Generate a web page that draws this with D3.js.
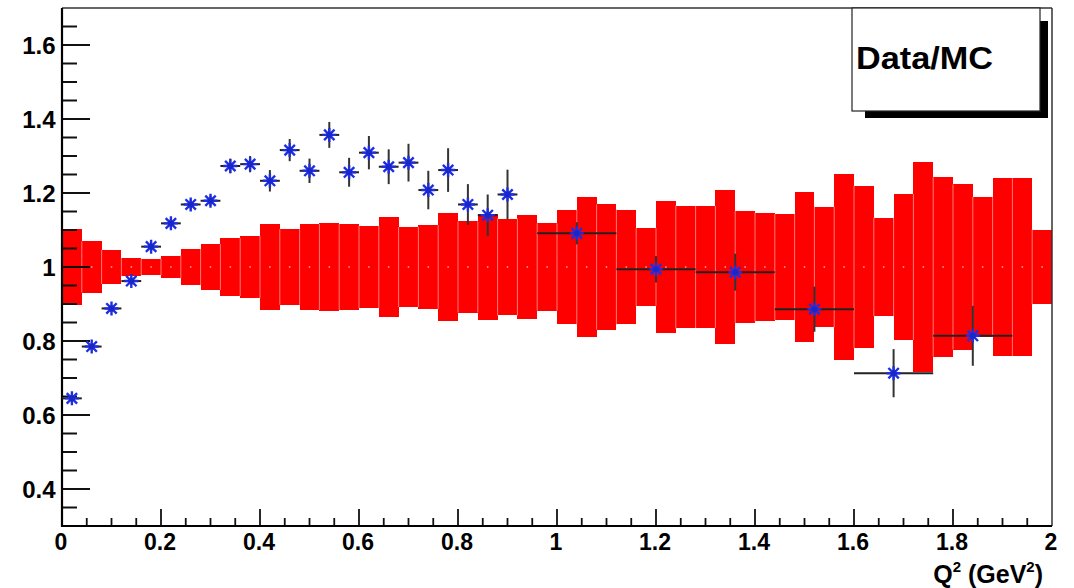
<!DOCTYPE html>
<html>
<head>
<meta charset="utf-8">
<script src="https://cdn.jsdelivr.net/npm/d3@7"></script>
<style>
  html, body { margin: 0; padding: 0; background: #fff; }
  svg { display: block; }
  text { font-family: "Liberation Sans", Arial, Helvetica, sans-serif; font-weight: bold; fill: #000; }
</style>
</head>
<body>
<svg id="chart" width="1074" height="588"></svg>
<script>
// Q^2 binning of the MC systematic band (0 to 2 GeV^2, 0.04 wide bins)
const bandBinWidth = 0.04;
const bandErr = [
  0.104, 0.069, 0.046, 0.024, 0.022, 0.031, 0.049, 0.062, 0.078, 0.084,
  0.116, 0.102, 0.116, 0.120, 0.116, 0.111, 0.134, 0.108, 0.113, 0.145,
  0.123, 0.142, 0.131, 0.141, 0.118, 0.155, 0.188, 0.169, 0.155, 0.105,
  0.178, 0.166, 0.165, 0.208, 0.151, 0.147, 0.143, 0.203, 0.163, 0.251,
  0.219, 0.133, 0.197, 0.284, 0.242, 0.223, 0.189, 0.240, 0.240, 0.101
];

// Data/MC ratio points
const q2 = [
  0.02, 0.06, 0.10, 0.14, 0.18, 0.22, 0.26, 0.30, 0.34, 0.38,
  0.42, 0.46, 0.50, 0.54, 0.58, 0.62, 0.66, 0.70, 0.74, 0.78,
  0.82, 0.86, 0.90, 1.04, 1.20, 1.36, 1.52, 1.68, 1.84
];
const q2Err = [
  0.02, 0.02, 0.02, 0.02, 0.02, 0.02, 0.02, 0.02, 0.02, 0.02,
  0.02, 0.02, 0.02, 0.02, 0.02, 0.02, 0.02, 0.02, 0.02, 0.02,
  0.02, 0.02, 0.02, 0.08, 0.08, 0.08, 0.08, 0.08, 0.08
];
const ratio = [
  0.645, 0.785, 0.888, 0.962, 1.055, 1.118, 1.169, 1.179, 1.273, 1.278,
  1.233, 1.316, 1.260, 1.357, 1.256, 1.309, 1.271, 1.282, 1.208, 1.262,
  1.169, 1.140, 1.196, 1.091, 0.994, 0.986, 0.886, 0.713, 0.814
];
const ratioErr = [
  0.008, 0.008, 0.009, 0.010, 0.011, 0.012, 0.013, 0.014, 0.020, 0.022,
  0.029, 0.030, 0.033, 0.035, 0.039, 0.045, 0.047, 0.051, 0.052, 0.059,
  0.055, 0.056, 0.067, 0.030, 0.036, 0.050, 0.061, 0.065, 0.081
];

// Axis ticks
const xMajorTicks = [0, 0.2, 0.4, 0.6, 0.8, 1, 1.2, 1.4, 1.6, 1.8, 2];
const xTickLabels = ["0", "0.2", "0.4", "0.6", "0.8", "1", "1.2", "1.4", "1.6", "1.8", "2"];
const yMajorTicks = [0.4, 0.6, 0.8, 1, 1.2, 1.4, 1.6];
const yTickLabels = ["0.4", "0.6", "0.8", "1", "1.2", "1.4", "1.6"];
const legendLabel = "Data/MC";

const svg = d3.select("#chart");
const x = d3.scaleLinear().domain([0, 2]).range([62, 1052]);
const y = d3.scaleLinear().domain([0.3, 1.7]).range([526, 8]);

// ---- systematic band ----
const bins = bandErr.map((e, i) => ({ lo: i * bandBinWidth, hi: (i + 1) * bandBinWidth, err: e }));
const band = svg.append("g");
band.selectAll("rect").data(bins).join("rect")
  .attr("x", d => x(d.lo))
  .attr("width", d => x(d.hi) - x(d.lo))
  .attr("y", d => y(1 + d.err))
  .attr("height", d => y(1 - d.err) - y(1 + d.err))
  .attr("fill", "#ff0000")
  .attr("shape-rendering", "crispEdges");

// faint separators between neighbouring bins
band.selectAll("line.sep").data(bins.slice(1)).join("line")
  .attr("class", "sep")
  .attr("x1", d => x(d.lo)).attr("x2", d => x(d.lo))
  .attr("y1", (d, i) => y(1 + Math.min(d.err, bins[i].err)))
  .attr("y2", (d, i) => y(1 - Math.min(d.err, bins[i].err)))
  .attr("stroke", "#ff7a7a").attr("stroke-width", 1);

// small centre markers of the band
band.selectAll("circle").data(bins).join("circle")
  .attr("cx", d => x((d.lo + d.hi) / 2))
  .attr("cy", y(1))
  .attr("r", 0.9)
  .attr("fill", "#ff8a8a");

// ---- axes ----
const axes = svg.append("g");
// frame (top / right)
axes.append("line").attr("x1", x(0)).attr("x2", x(2)).attr("y1", y(1.7)).attr("y2", y(1.7))
  .attr("stroke", "#333").attr("stroke-width", 1.5);
axes.append("line").attr("x1", x(2)).attr("x2", x(2)).attr("y1", y(1.7)).attr("y2", y(0.3))
  .attr("stroke", "#333").attr("stroke-width", 1.5);

// left axis ticks: major every 0.2, minor every 0.05
const yMinor = d3.range(0.35, 1.7, 0.05).map(v => Math.round(v * 100) / 100)
  .filter(v => !yMajorTicks.some(m => Math.abs(m - v) < 1e-6));
axes.selectAll("line.ymin").data(yMinor).join("line").attr("class", "ymin")
  .attr("x1", x(0)).attr("x2", x(0) + 15)
  .attr("y1", d => y(d)).attr("y2", d => y(d))
  .attr("stroke", "#111").attr("stroke-width", 2);
axes.selectAll("line.ymaj").data(yMajorTicks).join("line").attr("class", "ymaj")
  .attr("x1", x(0)).attr("x2", x(0) + 28)
  .attr("y1", d => y(d)).attr("y2", d => y(d))
  .attr("stroke", "#111").attr("stroke-width", 2);
axes.selectAll("text.ylab").data(yMajorTicks).join("text").attr("class", "ylab")
  .attr("x", 55.5).attr("y", d => y(d) + 9)
  .attr("text-anchor", "end").attr("font-size", 24)
  .text((d, i) => yTickLabels[i]);

// bottom axis ticks
const xMinor = d3.range(0.05, 2, 0.05).map(v => Math.round(v * 100) / 100)
  .filter(v => !xMajorTicks.some(m => Math.abs(m - v) < 1e-6));
axes.selectAll("line.xmin").data(xMinor).join("line").attr("class", "xmin")
  .attr("x1", d => x(d)).attr("x2", d => x(d))
  .attr("y1", y(0.3)).attr("y2", y(0.3) - 8)
  .attr("stroke", "#111").attr("stroke-width", 1.8);
axes.selectAll("line.xmaj").data(xMajorTicks.slice(1, -1)).join("line").attr("class", "xmaj")
  .attr("x1", d => x(d)).attr("x2", d => x(d))
  .attr("y1", y(0.3)).attr("y2", y(0.3) - 17)
  .attr("stroke", "#111").attr("stroke-width", 1.8);
axes.selectAll("text.xlab").data(xMajorTicks).join("text").attr("class", "xlab")
  .attr("x", d => x(d) - 1).attr("y", 550)
  .attr("text-anchor", "middle").attr("font-size", 23)
  .text((d, i) => xTickLabels[i]);

// axis lines
axes.append("line").attr("x1", x(0)).attr("x2", x(0)).attr("y1", y(1.7)).attr("y2", y(0.3) + 1)
  .attr("stroke", "#000").attr("stroke-width", 2.2);
axes.append("line").attr("x1", x(0) - 1).attr("x2", x(2)).attr("y1", y(0.3)).attr("y2", y(0.3))
  .attr("stroke", "#000").attr("stroke-width", 2.2);

// x-axis title
const title = axes.append("text").attr("x", 1043).attr("y", 583)
  .attr("text-anchor", "end").attr("font-size", 25);
title.append("tspan").text("Q");
title.append("tspan").attr("dy", -11).attr("font-size", 15).text("2");
title.append("tspan").attr("dy", 11).text(" (GeV");
title.append("tspan").attr("dy", -11).attr("font-size", 15).text("2");
title.append("tspan").attr("dy", 11).text(")");

// ---- data points ----
const pts = q2.map((q, i) => ({ q, qe: q2Err[i], r: ratio[i], re: ratioErr[i] }));
const gp = svg.append("g");
gp.selectAll("line.ex").data(pts).join("line").attr("class", "ex")
  .attr("x1", d => x(d.q - d.qe)).attr("x2", d => x(d.q + d.qe))
  .attr("y1", d => y(d.r)).attr("y2", d => y(d.r))
  .attr("stroke", "#222").attr("stroke-width", 2);
gp.selectAll("line.ey").data(pts).join("line").attr("class", "ey")
  .attr("x1", d => x(d.q)).attr("x2", d => x(d.q))
  .attr("y1", d => y(d.r + d.re)).attr("y2", d => y(d.r - d.re))
  .attr("stroke", "#333").attr("stroke-width", 2);

// eight-spoke star marker
const r1 = 7, r2 = 5.2;
const starPath = `M${-r1},0L${r1},0M0,${-r1}L0,${r1}M${-r2},${-r2}L${r2},${r2}M${-r2},${r2}L${r2},${-r2}`;
gp.selectAll("path.star").data(pts).join("path").attr("class", "star")
  .attr("transform", d => `translate(${x(d.q)},${y(d.r)})`)
  .attr("d", starPath)
  .attr("stroke", "#1f2fe0").attr("stroke-width", 2.4)
  .attr("fill", "none");
gp.selectAll("circle.core").data(pts).join("circle").attr("class", "core")
  .attr("cx", d => x(d.q)).attr("cy", d => y(d.r)).attr("r", 2.8)
  .attr("fill", "#1a26c8");

// ---- legend box ----
const leg = svg.append("g");
leg.append("rect").attr("x", 865).attr("y", 21).attr("width", 183).attr("height", 97).attr("fill", "#000");
leg.append("rect").attr("x", 852).attr("y", 8).attr("width", 188).attr("height", 103)
  .attr("fill", "#fff").attr("stroke", "#222").attr("stroke-width", 1.2);
leg.append("text").attr("x", 856).attr("y", 69).attr("font-size", 31)
  .attr("textLength", 137).attr("lengthAdjust", "spacingAndGlyphs")
  .text(legendLabel);
</script>
</body>
</html>
